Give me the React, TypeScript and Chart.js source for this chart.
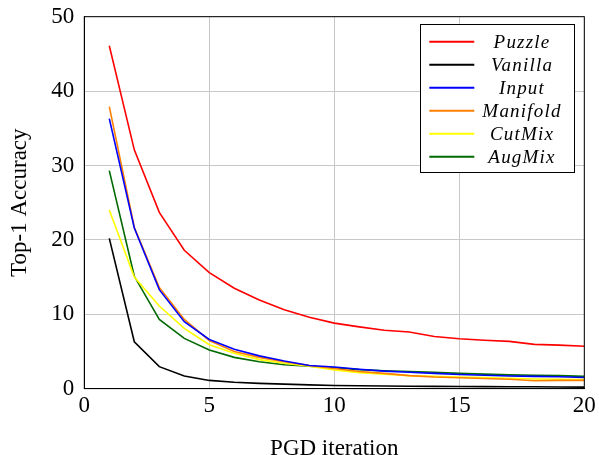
import React, { useEffect, useRef } from "react";
import { Chart, registerables } from "chart.js";

Chart.register(...registerables);

const iterations = [1, 2, 3, 4, 5, 6, 7, 8, 9, 10, 11, 12, 13, 14, 15, 16, 17, 18, 19, 20];
const puzzle = [46.1, 32.1, 23.7, 18.6, 15.6, 13.5, 11.9, 10.6, 9.6, 8.8, 8.3, 7.85, 7.6, 7.0, 6.7, 6.5, 6.35, 5.95, 5.85, 5.7];
const vanilla = [20.2, 6.3, 2.95, 1.7, 1.1, 0.85, 0.7, 0.6, 0.5, 0.42, 0.38, 0.35, 0.32, 0.3, 0.28, 0.26, 0.25, 0.24, 0.22, 0.2];
const input = [36.3, 21.6, 13.3, 9.0, 6.6, 5.3, 4.4, 3.7, 3.1, 2.9, 2.6, 2.35, 2.2, 2.05, 1.9, 1.8, 1.7, 1.65, 1.6, 1.5];
const manifold = [37.9, 21.7, 13.6, 9.3, 6.45, 5.0, 4.2, 3.6, 3.1, 2.7, 2.3, 2.05, 1.75, 1.55, 1.45, 1.35, 1.25, 1.05, 1.1, 1.1];
const cutmix = [24.0, 15.0, 11.1, 8.1, 5.9, 4.75, 3.9, 3.4, 3.0, 2.5, 2.15, 1.95, 1.75, 1.65, 1.55, 1.5, 1.4, 1.3, 1.25, 1.2];
const augmix = [29.3, 15.1, 9.3, 6.75, 5.2, 4.2, 3.6, 3.2, 3.0, 2.8, 2.55, 2.4, 2.3, 2.2, 2.05, 1.95, 1.85, 1.8, 1.75, 1.65];

const seriesNames = ["Puzzle", "Vanilla", "Input", "Manifold", "CutMix", "AugMix"];
const seriesValues = [puzzle, vanilla, input, manifold, cutmix, augmix];
const seriesColors = ["#ff0000", "#000000", "#0000ff", "#ff8000", "#ffff00", "#006a00"];

const xTitle = "PGD iteration";
const yTitle = "Top-1 Accuracy";

const SERIF = '"Liberation Serif", "Times New Roman", serif';

const framePlugin = {
  id: "frameAndLegend",
  afterDraw(chart: any) {
    const { ctx, chartArea } = chart;
    ctx.save();
    ctx.strokeStyle = "#000";
    ctx.lineWidth = 1;
    ctx.strokeRect(chartArea.left, chartArea.top, chartArea.right - chartArea.left, chartArea.bottom - chartArea.top);

    // legend box
    const bx = 420.5, by = 24.5, bw = 154, bh = 148;
    ctx.fillStyle = "#fff";
    ctx.fillRect(bx, by, bw, bh);
    ctx.strokeStyle = "#000";
    ctx.strokeRect(bx, by, bw, bh);
    ctx.font = "italic 19px " + SERIF;
    (ctx as any).letterSpacing = "1.2px";
    ctx.textAlign = "center";
    ctx.textBaseline = "middle";
    chart.data.datasets.forEach((ds: any, i: number) => {
      const y = 41.7 + i * 23;
      ctx.strokeStyle = ds.borderColor;
      ctx.lineWidth = 2;
      ctx.beginPath();
      ctx.moveTo(429.3, y);
      ctx.lineTo(474.3, y);
      ctx.stroke();
      ctx.fillStyle = "#000";
      ctx.fillText(ds.label, 522, y + 1);
    });
    ctx.restore();
  },
};

export default function App() {
  const ref = useRef<HTMLCanvasElement>(null);
  useEffect(() => {
    if (!ref.current) return;
    const datasets = seriesNames.map((name, i) => ({
      label: name,
      data: iterations.map((x, j) => ({ x, y: seriesValues[i][j] })),
      borderColor: seriesColors[i],
      backgroundColor: seriesColors[i],
      borderWidth: 1.6,
      pointRadius: 0,
      tension: 0,
      fill: false,
    }));
    const tickFont = { family: SERIF, size: 23 };
    const chart = new Chart(ref.current, {
      type: "line",
      data: { datasets },
      options: {
        animation: false,
        responsive: false,
        layout: { padding: { top: 16.7, right: 14.7, left: 0, bottom: 0 } },
        plugins: { legend: { display: false }, tooltip: { enabled: false } },
        scales: {
          x: {
            type: "linear",
            min: 0,
            max: 20,
            ticks: { stepSize: 5, color: "#000", font: tickFont, padding: 4, maxRotation: 0 },
            grid: { color: "#c8c8c8", lineWidth: 1, drawTicks: false },
            border: { color: "#000", width: 1 },
            title: { display: true, text: xTitle, color: "#000", font: { ...tickFont, lineHeight: 1 }, padding: { top: 0, bottom: -5 } },
            afterFit: (s: any) => { s.height = 66.4; s.paddingLeft = 0; s.paddingRight = 0; },
          },
          y: {
            min: 0,
            max: 50,
            ticks: { stepSize: 10, color: "#000", font: tickFont, padding: 10 },
            grid: { color: "#c8c8c8", lineWidth: 1, drawTicks: false },
            border: { color: "#000", width: 1 },
            title: { display: true, text: yTitle, color: "#000", font: { ...tickFont, lineHeight: 1 }, padding: { top: 8, bottom: 0 } },
            afterFit: (s: any) => { s.width = 84.3; s.paddingTop = 0; s.paddingBottom = 0; },
          },
        },
      },
      plugins: [framePlugin],
    } as any);
    return () => chart.destroy();
  }, []);
  return (
    <div style={{ position: "absolute", left: 0, top: 0, width: 599, height: 455, background: "#fff" }}>
      <canvas ref={ref} width={599} height={455} style={{ display: "block" }} />
    </div>
  );
}
